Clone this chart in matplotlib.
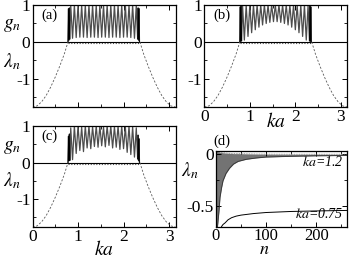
import matplotlib
matplotlib.use("Agg")
import matplotlib.pyplot as plt
from matplotlib.ticker import MultipleLocator
import numpy as np

plt.rcParams["font.family"] = "Liberation Serif"
plt.rcParams["mathtext.fontset"] = "stix"

# fringe positions (shared by panels a-c)
peak_ka = [0.84, 0.92, 1.00, 1.08, 1.16, 1.24, 1.32, 1.40, 1.48, 1.56,
           1.64, 1.72, 1.80, 1.88, 1.96, 2.04, 2.12, 2.20, 2.28]
trough_ka = [0.88, 0.96, 1.04, 1.12, 1.20, 1.28, 1.36, 1.44, 1.52,
             1.60, 1.68, 1.76, 1.84, 1.92, 2.00, 2.08, 2.16, 2.24]

# left / right band edges (dense dark part)
edge_left_ka = [0.78, 0.79, 0.80, 0.81, 0.82]
edge_right_ka = [2.31, 2.32, 2.33, 2.34, 2.35]

# panel (a)
a_peak = [1.0] * 19
a_trough = [0.10, 0.12, 0.13, 0.13, 0.12, 0.13, 0.13, 0.12, 0.13,
            0.13, 0.12, 0.13, 0.13, 0.12, 0.13, 0.13, 0.12, 0.10]
a_edge_left = [0.0, 0.9, 0.05, 0.92, 0.08]
a_edge_right = [0.08, 0.92, 0.05, 0.9, 0.0]

# panel (b)
b_peak = [1.0] * 19
b_trough = [0.05, 0.15, 0.25, 0.33, 0.40, 0.46, 0.50, 0.53, 0.55,
            0.55, 0.53, 0.50, 0.46, 0.40, 0.33, 0.25, 0.15, 0.05]
b_edge_left = [0.0, 0.95, 0.02, 0.97, 0.03]
b_edge_right = [0.03, 0.97, 0.02, 0.95, 0.0]

# panel (c)
c_peak = [0.95, 1.0, 1.0, 0.97, 1.0, 1.0, 0.98, 1.0, 1.0, 0.97,
          1.0, 1.0, 0.98, 1.0, 1.0, 0.97, 1.0, 0.98, 0.95]
c_trough = [0.08, 0.25, 0.33, 0.30, 0.40, 0.38, 0.44, 0.42, 0.46,
            0.43, 0.47, 0.40, 0.42, 0.36, 0.38, 0.28, 0.22, 0.15]
c_edge_left = [0.0, 0.72, 0.05, 0.78, 0.06]
c_edge_right = [0.1, 0.75, 0.05, 0.65, 0.0]

# lambda_n (dashed) outside the band
lam_left_ka = [0.0, 0.1, 0.2, 0.3, 0.4, 0.5, 0.6, 0.7, 0.78]
lam_left = [-1.76, -1.73, -1.62, -1.45, -1.22, -0.95, -0.65, -0.32, 0.0]
lam_right_ka = [2.36, 2.44, 2.54, 2.64, 2.74, 2.84, 2.94, 3.04, 3.14]
lam_right = [0.0, -0.32, -0.65, -0.95, -1.22, -1.45, -1.62, -1.73, -1.76]
lam_flat_ka = [0.78, 2.36]
lam_flat = [-0.025, -0.025]

# panel (d)
n_075 = [11, 14, 18, 24, 31, 40, 50, 75, 100, 150, 200, 262]
l_075 = [-0.70, -0.68, -0.665, -0.635, -0.615, -0.60, -0.59, -0.575,
         -0.565, -0.555, -0.55, -0.545]
n_12 = [0, 3, 6, 8, 11, 14, 20, 27, 35, 44, 60, 80, 100, 150, 200, 262]
l_12_low = [-0.70, -0.70, -0.55, -0.42, -0.33, -0.26, -0.19, -0.14, -0.10,
            -0.075, -0.055, -0.042, -0.033, -0.026, -0.021, -0.018]
l_12_high = [0.02, 0.02, 0.015, 0.012, 0.01, 0.008, 0.005, 0.003, 0.0,
             0.0, -0.002, -0.004, -0.005, -0.006, -0.006, -0.006]


def fringe_curve(peak, trough, edge_l, edge_r):
    ka = np.concatenate([edge_left_ka, peak_ka, trough_ka, edge_right_ka])
    g = np.concatenate([edge_l, peak, trough, edge_r])
    order = np.argsort(ka)
    return ka[order], g[order]


def style_axis(ax):
    ax.tick_params(which="both", direction="in", top=True, right=True,
                   labelsize=12.5, pad=1.5)
    ax.tick_params(which="major", length=3.5, width=0.7)
    ax.tick_params(which="minor", length=2, width=0.6)
    for s in ax.spines.values():
        s.set_linewidth(0.9)


def band_panel(ax, peak, trough, edge_l, edge_r, label):
    ka, g = fringe_curve(peak, trough, edge_l, edge_r)
    ax.plot(ka, g, color="0.3", lw=0.9)
    ax.plot(edge_left_ka, edge_l, color="k", lw=0.6)
    ax.plot(edge_right_ka, edge_r, color="k", lw=0.6)
    ax.axhline(0, color="k", lw=0.8)
    ax.plot(lam_left_ka, lam_left, color="0.35", lw=0.6, ls=(0, (2.5, 2)))
    ax.plot(lam_right_ka, lam_right, color="0.35", lw=0.6, ls=(0, (2.5, 2)))
    ax.plot(lam_flat_ka, lam_flat, color="0.3", lw=0.8, ls=(0, (1, 1.5)))
    ax.set_xlim(0, np.pi)
    ax.set_ylim(-1.76, 1.0)
    ax.xaxis.set_major_locator(MultipleLocator(1))
    ax.xaxis.set_minor_locator(MultipleLocator(0.5))
    ax.yaxis.set_major_locator(MultipleLocator(1))
    ax.yaxis.set_minor_locator(MultipleLocator(0.5))
    ax.set_yticks([1, 0, -1])
    ax.set_yticklabels(["1", "0", "-1"])
    style_axis(ax)
    ax.text(0.06, 0.86, label, transform=ax.transAxes, fontsize=10.5)


fig = plt.figure(figsize=(3.49, 2.58), dpi=100)

W, H = 349.0, 258.0


def box(x0, y0, x1, y1):
    return [x0 / W, 1 - y1 / H, (x1 - x0) / W, (y1 - y0) / H]


ax_a = fig.add_axes(box(32.5, 5, 175.5, 107))
ax_b = fig.add_axes(box(204.3, 5, 347.3, 107))
ax_c = fig.add_axes(box(32.5, 126, 175.5, 227))
ax_d = fig.add_axes(box(216, 151, 347.3, 227))

band_panel(ax_a, a_peak, a_trough, a_edge_left, a_edge_right, "(a)")
band_panel(ax_b, b_peak, b_trough, b_edge_left, b_edge_right, "(b)")
band_panel(ax_c, c_peak, c_trough, c_edge_left, c_edge_right, "(c)")

ax_a.set_xticklabels([])
fig.text(276 / W, 1 - 127 / H, "$ka$", fontsize=14, ha="center", va="baseline")
fig.text(104 / W, 1 - 255 / H, "$ka$", fontsize=14, ha="center", va="baseline")

for y_g, y_l in [(25, 62), (147, 181)]:
    fig.text(12 / W, 1 - y_g / H, "$g_n$", fontsize=14, ha="center", va="center")
    fig.text(12 / W, 1 - y_l / H, "$\\lambda_n$", fontsize=14, ha="center", va="center")

# panel (d)
ax_d.fill_between(n_12, l_12_low, l_12_high, color="0.45", lw=0)
ax_d.plot(n_12, l_12_low, color="0.2", lw=0.6)
ax_d.plot(n_12, l_12_high, color="0.5", lw=0.6, ls=(0, (1, 1)))
ax_d.plot(n_075, l_075, color="k", lw=0.7)
ax_d.set_xlim(0, 262)
ax_d.set_ylim(-0.704, 0.025)
ax_d.xaxis.set_major_locator(MultipleLocator(100))
ax_d.xaxis.set_minor_locator(MultipleLocator(50))
ax_d.set_yticks([0, -0.5])
ax_d.set_yticklabels(["0", "-0.5"])
ax_d.yaxis.set_minor_locator(MultipleLocator(0.25))
style_axis(ax_d)
ax_d.tick_params(axis="x", labelsize=12, pad=0.5)
fig.text(264 / W, 1 - 257.5 / H, "$n$", fontsize=13, ha="center", va="bottom")
ax_d.text(0.97, 0.86, "$ka$=1.2", transform=ax_d.transAxes, fontsize=10,
          ha="right", va="center", style="italic")
ax_d.text(0.97, 0.17, "$ka$=0.75", transform=ax_d.transAxes, fontsize=10,
          ha="right", va="center", style="italic")
fig.text(222 / W, 1 - 141 / H, "(d)", fontsize=10.5, ha="center", va="center")
fig.text(190 / W, 1 - 171 / H, "$\\lambda_n$", fontsize=14, ha="center", va="center")

fig.savefig("out.png", dpi=100)
